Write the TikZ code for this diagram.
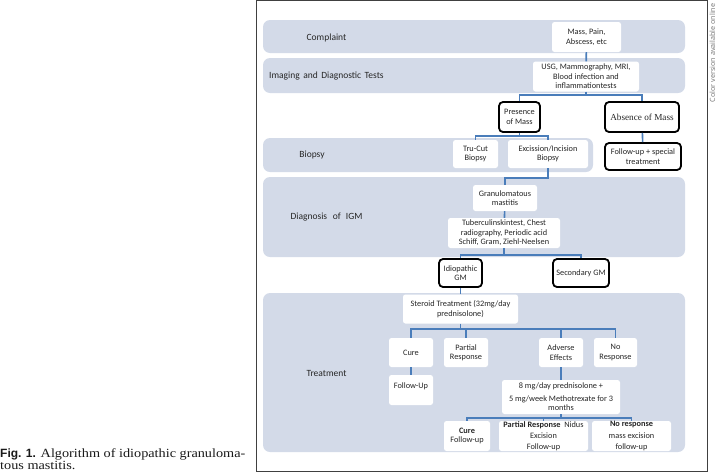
\documentclass[tikz,border=0pt]{standalone}
\usepackage{fontspec}
\setmainfont{Carlito}
\newfontfamily\capserif[FakeStretch=1.14]{Liberation Serif}
\newfontfamily\absserif{Liberation Serif}
\newfontfamily\capsans{Liberation Sans}
\newfontfamily\notefont{Open Sans}
\definecolor{bandc}{HTML}{D3DAE8}
\definecolor{connc}{HTML}{4A7DBA}
\definecolor{txtc}{HTML}{262626}
\begin{document}
\begin{tikzpicture}[x=1pt,y=-1pt,
  band/.style={fill=bandc, rounded corners=7pt},
  wbox/.style={fill=white, rounded corners=2.5pt, align=center, inner sep=0pt, text=txtc,
    font=\fontsize{8.3}{9.4}\selectfont},
  kbox/.style={wbox, draw=black, line width=1.8pt, rounded corners=4pt},
  conn/.style={draw=connc, line width=1.6pt},
  lab/.style={text=txtc, inner sep=0pt, font=\fontsize{9.5}{11}\selectfont},
  sz/.style 2 args={minimum width=#1pt, minimum height=#2pt}
]
\useasboundingbox (0,0) rectangle (717,472);
% frame
\draw[line width=0.8pt, black!75] (256,0.5) rectangle (707,471);
\node[rotate=90, text=black!55, inner sep=0pt, font=\notefont\fontsize{7.2}{8}\selectfont] (note) at (712.5,53) {Color version available online};
% bands
\path[band] (263,20) rectangle (685,53);
\path[band] (263,58) rectangle (685,93);
\path[band] (263,138) rectangle (593,172);
\path[band] (263,177) rectangle (685,257);
\path[band] (263,293) rectangle (685,452);
% band labels
\node[lab] (lcomp) at (326.5,38) {Complaint};
\node[lab, anchor=west] (limg) at (269,76) {Imaging\hspace{1.3pt} and\hspace{1.3pt} Diagnostic\hspace{1.3pt} Tests};
\node[lab] (lbio) at (312,155) {Biopsy};
\node[lab] (ldia) at (326.5,217) {Diagnosis\hspace{3.5pt} of\hspace{3pt} IGM};
\node[lab] (ltre) at (326.5,373) {Treatment};
% nodes
\node[wbox, sz={69}{30}] (mass) at (586.5,37) {Mass, Pain,\\Abscess, etc};
\node[wbox, sz={106}{30}] (usg) at (586,76.5) {USG, Mammography, MRI,\\Blood infection and\\inflammationtests};
\node[kbox, sz={41}{30}] (pres) at (519.5,117) {Presence\\of Mass};
\node[kbox, sz={74}{30}, font=\absserif\fontsize{9.2}{10}\selectfont] (abs) at (642,117) {Absence of Mass};
\node[wbox, sz={45}{28}] (tru) at (475.5,154) {Tru-Cut\\Biopsy};
\node[wbox, sz={80}{28}] (exc) at (548,154) {Excission/Incision\\Biopsy};
\node[kbox, sz={76}{27}] (fus) at (643,156.5) {Follow-up + special\\treatment};
\node[wbox, sz={64}{26}] (gran) at (505,198) {Granulomatous\\mastitis};
\node[wbox, sz={112}{30}] (tub) at (504,233) {Tuberculinskintest, Chest\\radiography, Periodic acid\\Schiff, Gram, Ziehl-Neelsen};
\node[kbox, sz={43}{28}] (idio) at (460.5,273) {Idiopathic\\GM};
\node[kbox, sz={56}{28}] (sec) at (581,273) {Secondary GM};
\node[wbox, sz={115}{29}] (ster) at (460.5,309) {Steroid Treatment (32mg/day\\prednisolone)};
\node[wbox, sz={44}{29}] (cure) at (411,352.5) {Cure};
\node[wbox, sz={44}{29}] (part) at (466,352.5) {Partial\\Response};
\node[wbox, sz={44}{29}] (adv) at (561,352.5) {Adverse\\Effects};
\node[wbox, sz={43}{29}] (nor) at (615.5,352.5) {No\\Response};
\node[wbox, minimum width=44pt, text height=13pt, text depth=17pt] (fu) at (411,390) {Follow-Up};
\node[wbox, sz={118}{34}] (med) at (561,397) {8 mg/day prednisolone +\\[3pt]5 mg/week Methotrexate for 3\\months};
\node[wbox, sz={46}{30}] (cfu) at (467,436) {\textbf{Cure}\\Follow-up};
\node[wbox, sz={89}{30}, font=\fontsize{8.3}{10.8}\selectfont] (pfu) at (543.5,436) {\textbf{Partial Response}\ \ Nidus\\Excision\\Follow-up};
\node[wbox, sz={79}{30}, font=\fontsize{8.3}{11.5}\selectfont] (nfu) at (631.5,436) {\textbf{No response}\\mass excision\\follow-up};
% bar levels
\coordinate (y1) at (0,95);
\coordinate (y2) at (0,136);
\coordinate (y3) at (0,178);
\coordinate (y4) at (0,255);
\coordinate (y5) at (0,329);
\coordinate (y6) at (0,418);
% connectors
\draw[conn] (mass) -- (usg);
\draw[conn] (usg.south) -- (usg.south |- y1);
\draw[conn] (pres.north) -- (pres.north |- y1) -- (abs.north |- y1) -- (abs.north);
\draw[conn] (pres.south) -- (pres.south |- y2);
\draw[conn] (tru.north) -- (tru.north |- y2) -- (exc.north |- y2) -- (exc.north);
\draw[conn] (abs) -- (fus);
\draw[conn] (exc.south) -- (exc.south |- y3) -- (gran.north |- y3) -- (gran.north);
\draw[conn] (gran) -- (tub);
\draw[conn] (tub.south) -- (tub.south |- y4);
\draw[conn] (idio.north) -- (idio.north |- y4) -- (sec.north |- y4) -- (sec.north);
\draw[conn] (idio) -- (ster);
\draw[conn] (ster.south) -- (ster.south |- y5);
\draw[conn] (cure.north) -- (cure.north |- y5) -- (nor.north |- y5) -- (nor.north);
\draw[conn] (part.north) -- (part.north |- y5);
\draw[conn] (adv.north) -- (adv.north |- y5);
\draw[conn] (cure) -- (fu);
\draw[conn] (adv) -- (med);
\draw[conn] (med.south) -- (med.south |- y6);
\draw[conn] (cfu.north) -- (cfu.north |- y6) -- (nfu.north |- y6) -- (nfu.north);
\draw[conn] (pfu.north) -- (pfu.north |- y6);
% caption
\node[anchor=base west, align=left, inner sep=0pt, text=black!90,
  font=\capserif\fontsize{12.5}{11.5}\selectfont] (cap) at (0,469)
  {{\capsans\bfseries\fontsize{12}{12}\selectfont Fig. 1.} Algorithm of idiopathic granuloma-\\tous mastitis.};
\end{tikzpicture}
\end{document}
